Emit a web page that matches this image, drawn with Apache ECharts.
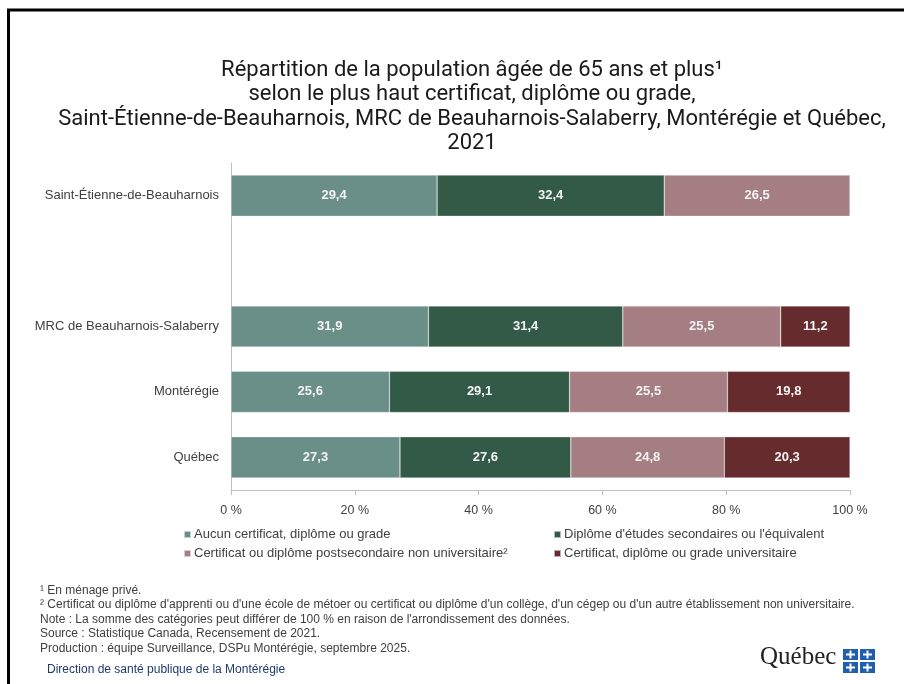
<!DOCTYPE html>
<html>
<head>
<meta charset="utf-8">
<script src="https://cdn.jsdelivr.net/npm/echarts@6/dist/echarts.min.js"></script>
<style>
  html, body { margin: 0; padding: 0; background: #fff; }
  #chart { width: 904px; height: 684px; }
</style>
</head>
<body>
<div id="chart"></div>
<script>
// categories (the empty one is the gap between the municipality and the regions)
const categories = ['Saint-Étienne-de-Beauharnois', '', 'MRC de Beauharnois-Salaberry', 'Montérégie', 'Québec']
const seriesNames = [
  'Aucun certificat, diplôme ou grade',
  "Diplôme d'études secondaires ou l'équivalent",
  'Certificat ou diplôme postsecondaire non universitaire²',
  'Certificat, diplôme ou grade universitaire'
]
// values in %
const aucun = [29.4, null, 31.9, 25.6, 27.3]
const secondaire = [32.4, null, 31.4, 29.1, 27.6]
const postsec = [26.5, null, 25.5, 25.5, 24.8]
const universitaire = [null, null, 11.2, 19.8, 20.3]
const xTicks = [0, 20, 40, 60, 80, 100]

const colors = ['#6a8f89', '#325a47', '#a57e83', '#652b2d']
const allValues = [aucun, secondaire, postsec, universitaire]

// bars are drawn as share of the row total (100 % stacked)
const totals = categories.map((c, i) => allValues.reduce((s, arr) => s + (arr[i] || 0), 0))

const seriesArr = allValues.map((arr, k) => {
  return {
    name: seriesNames[k],
    type: 'bar',
    stack: 'total',
    barWidth: '63%',
    itemStyle: { color: colors[k], borderColor: 'rgba(255,255,255,0.6)', borderWidth: 0.5 },
    label: {
      show: true,
      position: 'inside',
      color: '#f4f4f4',
      fontFamily: 'Liberation Sans',
      fontSize: 13,
      fontWeight: 'bold',
      formatter: (p) => p.data.raw.toFixed(1).replace('.', ',')
    },
    data: arr.map((v, i) => v == null ? null : { value: v / totals[i] * 100, raw: v })
  }
})

const legendPos = [[183, 528], [553, 528], [183, 547], [553, 547]]
const legends = seriesNames.map((n, k) => ({
  data: [n],
  left: legendPos[k][0],
  top: legendPos[k][1],
  padding: 0,
  icon: 'rect',
  itemWidth: 7,
  itemHeight: 7,
  itemGap: 4,
  selectedMode: false,
  textStyle: { fontFamily: 'Liberation Sans', fontSize: 13, color: '#404040', padding: [0, 0, 0, -2] }
}))

const notes = [
  '¹ En ménage privé.',
  "² Certificat ou diplôme d'apprenti ou d'une école de métoer ou certificat ou diplôme d'un collège, d'un cégep ou d'un autre établissement non universitaire.",
  "Note : La somme des catégories peut différer de 100 % en raison de l'arrondissement des données.",
  'Source : Statistique Canada, Recensement de 2021.',
  'Production : équipe Surveillance, DSPu Montérégie, septembre 2025.'
]

const chart = echarts.init(document.getElementById('chart'))
chart.setOption({
  animation: false,
  title: {
    text: 'Répartition de la population âgée de 65 ans et plus¹\nselon le plus haut certificat, diplôme ou grade,\nSaint-Étienne-de-Beauharnois, MRC de Beauharnois-Salaberry, Montérégie et Québec,\n2021',
    left: 467,
    textAlign: 'center',
    top: 53,
    textStyle: { fontFamily: 'Roboto', fontWeight: 'normal', fontSize: 22, lineHeight: 24.5, color: '#1a1a1a' }
  },
  legend: legends,
  grid: { left: 231, right: 54, top: 163, bottom: 194 },
  xAxis: {
    type: 'value',
    min: 0,
    max: 100,
    interval: 20,
    axisLine: { show: true, lineStyle: { color: '#bfbfbf' } },
    axisTick: { show: true, length: 5, lineStyle: { color: '#bfbfbf' } },
    splitLine: { show: false },
    axisLabel: {
      margin: 14,
      fontFamily: 'Liberation Sans',
      fontSize: 12.5,
      color: '#404040',
      formatter: (v) => xTicks.includes(v) ? v + ' %' : ''
    }
  },
  yAxis: {
    type: 'category',
    inverse: true,
    data: categories,
    axisLine: { show: true, lineStyle: { color: '#bfbfbf' } },
    axisTick: { show: false },
    axisLabel: { margin: 12, fontFamily: 'Liberation Sans', fontSize: 13, color: '#404040' }
  },
  series: seriesArr,
  graphic: [
    // frame
    { type: 'rect', shape: { x: 8.5, y: 10, width: 930, height: 700 }, style: { fill: 'none', stroke: '#000', lineWidth: 3 } },
    ...notes.map((t, i) => ({
      type: 'text', left: 40, top: 584.5 + i * 14.5,
      style: { text: t, fontFamily: 'Liberation Sans', fontSize: 12, fill: '#404040' }
    })),
    {
      type: 'text', left: 47, top: 664,
      style: { text: 'Direction de santé publique de la Montérégie', fontFamily: 'Liberation Sans', fontSize: 12, fill: '#1f3a6e' }
    },
    // Québec logo
    {
      type: 'text', left: 760, top: 645,
      style: { text: 'Québec', fontFamily: 'Liberation Serif', fontSize: 25, fill: '#222' }
    },
    ...[[843, 649], [860, 649], [843, 662], [860, 662]].map((p) => ({
      type: 'group', left: p[0], top: p[1],
      children: [
        { type: 'rect', shape: { x: 0, y: 0, width: 15, height: 11 }, style: { fill: '#1f5fae' } },
        { type: 'rect', shape: { x: 6.5, y: 1.5, width: 2, height: 8 }, style: { fill: '#fff' } },
        { type: 'rect', shape: { x: 3, y: 4.5, width: 9, height: 2 }, style: { fill: '#fff' } }
      ]
    }))
  ]
})
</script>
</body>
</html>
